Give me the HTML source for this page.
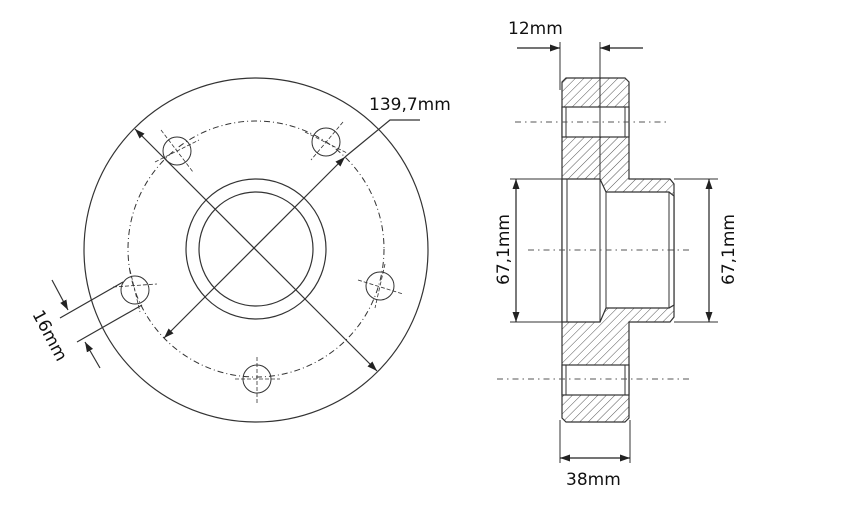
<!DOCTYPE html>
<html><head><meta charset="utf-8"><style>
html,body{margin:0;padding:0;background:#fff}
svg{display:block}
text{font-family:"DejaVu Sans","Liberation Sans",sans-serif;font-size:17px;fill:#111}
</style></head><body>
<svg width="843" height="510" viewBox="0 0 843 510" xmlns="http://www.w3.org/2000/svg">
<defs>
<pattern id="h" patternUnits="userSpaceOnUse" width="6" height="6" patternTransform="rotate(45)">
<rect width="6" height="6" fill="#fff"/><line x1="0" y1="0" x2="0" y2="6" stroke="#555" stroke-width="1"/>
</pattern>
<marker id="a" viewBox="0 0 10 10" refX="10" refY="5" markerWidth="10" markerHeight="10" markerUnits="userSpaceOnUse" orient="auto-start-reverse">
<path d="M0,1.5 L10,5 L0,8.5z" fill="#222"/></marker>
</defs>
<g fill="none" stroke="#333" stroke-width="1.2">
<!-- front view -->
<circle cx="256" cy="250" r="172"/>
<circle cx="256" cy="249" r="128" stroke-dasharray="6,3,1,3" stroke-width="1"/>
<circle cx="256" cy="249" r="70"/>
<circle cx="256" cy="249" r="57"/>
<g stroke-width="1">
<circle cx="177" cy="151" r="14"/><circle cx="326" cy="142" r="14"/><circle cx="380" cy="286" r="14"/><circle cx="257" cy="379" r="14"/><circle cx="135" cy="290" r="14"/>
</g>
<g stroke-dasharray="4,2" stroke-width="0.8">
<line x1="161" y1="130" x2="193" y2="172"/><line x1="155" y1="162" x2="199" y2="140"/>
<line x1="343" y1="122" x2="311" y2="160"/><line x1="305" y1="132" x2="347" y2="153"/>
<line x1="358" y1="280" x2="403" y2="294"/><line x1="385" y1="264" x2="375" y2="308"/>
<line x1="257" y1="357" x2="257" y2="403"/><line x1="235" y1="379" x2="280" y2="379"/>
<line x1="113" y1="287" x2="157" y2="284"/><line x1="130" y1="270" x2="140" y2="312"/>
</g>
<line x1="135" y1="129" x2="377" y2="371" marker-start="url(#a)" marker-end="url(#a)"/>
<line x1="164" y1="338" x2="345" y2="157" marker-start="url(#a)" marker-end="url(#a)"/>
<polyline points="345,157 390,120 420,120"/>
<line x1="123" y1="282" x2="60" y2="318"/>
<line x1="142" y1="305" x2="77" y2="342"/>
<line x1="52" y1="280" x2="68" y2="310" marker-end="url(#a)"/>
<line x1="100" y1="368" x2="85" y2="342" marker-end="url(#a)"/>
</g>
<text x="369" y="110">139,7mm</text>
<text transform="translate(32,314) rotate(62)">16mm</text>
<!-- side section -->
<path d="M566,78 L625,78 L629,82 L629,179 L670,179 L674,184 L674,317 L670,322 L629,322 L629,418 L625,422 L566,422 L562,418 L562,82 Z" fill="url(#h)" stroke="#333" stroke-width="1.2"/>
<g fill="#fff" stroke="#333" stroke-width="1.2">
<rect x="562" y="107" width="67" height="30"/>
<rect x="562" y="365" width="67" height="30"/>
<path d="M562,179 L600,179 L606,192 L669,192 L674,196 L674,305 L669,308 L606,308 L600,322 L562,322 Z"/>
</g>
<g stroke="#333" stroke-width="1" fill="none">
<line x1="566" y1="107" x2="566" y2="137"/><line x1="625" y1="107" x2="625" y2="137"/>
<line x1="566" y1="365" x2="566" y2="395"/><line x1="625" y1="365" x2="625" y2="395"/>
<line x1="567" y1="179" x2="567" y2="322"/>
<line x1="606" y1="192" x2="606" y2="308"/>
<line x1="669" y1="192" x2="669" y2="308"/>
<line x1="600" y1="42" x2="600" y2="322"/>
<line x1="560" y1="42" x2="560" y2="90"/>
<line x1="560" y1="420" x2="560" y2="463"/>
<line x1="630" y1="420" x2="630" y2="463"/>
<line x1="510" y1="179" x2="562" y2="179"/><line x1="510" y1="322" x2="562" y2="322"/>
<line x1="674" y1="179" x2="718" y2="179"/><line x1="674" y1="322" x2="718" y2="322"/>
</g>
<g stroke="#222" stroke-width="1.2" fill="none">
<line x1="517" y1="48" x2="560" y2="48" marker-end="url(#a)"/>
<line x1="643" y1="48" x2="600" y2="48" marker-end="url(#a)"/>
<line x1="560" y1="458" x2="630" y2="458" marker-start="url(#a)" marker-end="url(#a)"/>
<line x1="516" y1="179" x2="516" y2="322" marker-start="url(#a)" marker-end="url(#a)"/>
<line x1="709" y1="179" x2="709" y2="322" marker-start="url(#a)" marker-end="url(#a)"/>
</g>
<g stroke="#555" stroke-width="1" stroke-dasharray="6,4,1.5,4">
<line x1="515" y1="122" x2="668" y2="122"/>
<line x1="528" y1="250" x2="690" y2="250"/>
<line x1="497" y1="379" x2="693" y2="379"/>
</g>
<text x="508" y="34">12mm</text>
<text x="566" y="485">38mm</text>
<text transform="translate(509,285) rotate(-90)">67,1mm</text>
<text transform="translate(734,285) rotate(-90)">67,1mm</text>
</svg>
</body></html>
